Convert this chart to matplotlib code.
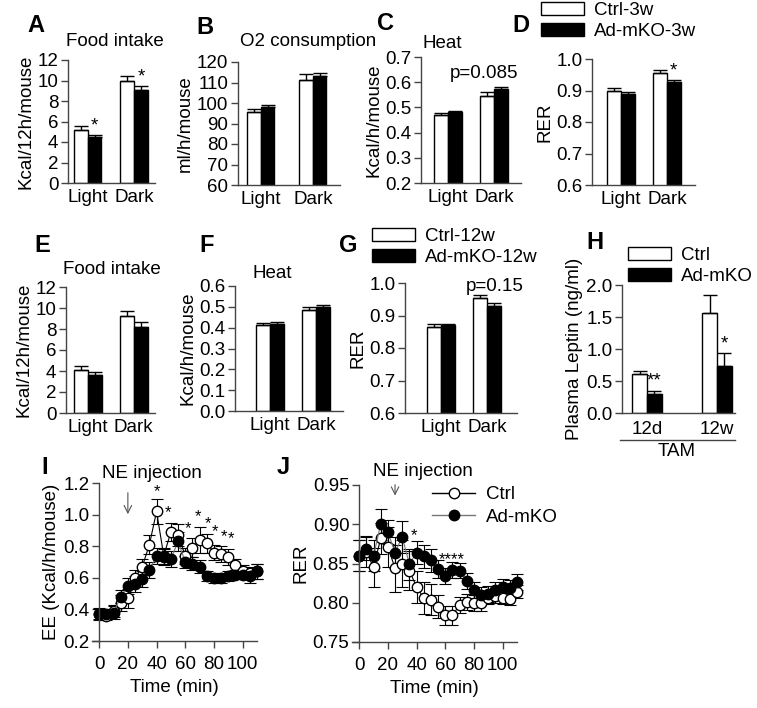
import numpy as np
import matplotlib.pyplot as plt
from matplotlib.lines import Line2D

plt.rcParams['font.family'] = ['Liberation Sans', 'DejaVu Sans']
plt.rcParams['font.size'] = 13.5

W, H = 757, 708
FS = 13.5

groups = ['Light', 'Dark']

# A: food intake, 3w
a_ctrl, a_ctrl_err = [5.2, 10.0], [0.35, 0.45]
a_ko, a_ko_err = [4.5, 9.1], [0.15, 0.35]
# B: O2 consumption, 3w
b_ctrl, b_ctrl_err = [95.5, 111.0], [1.5, 3.0]
b_ko, b_ko_err = [98.0, 113.0], [1.0, 1.8]
# C: heat, 3w
c_ctrl, c_ctrl_err = [0.468, 0.545], [0.008, 0.016]
c_ko, c_ko_err = [0.483, 0.572], [0.002, 0.008]
# D: RER, 3w
d_ctrl, d_ctrl_err = [0.897, 0.957], [0.010, 0.008]
d_ko, d_ko_err = [0.888, 0.927], [0.008, 0.007]
# E: food intake, 12w
e_ctrl, e_ctrl_err = [4.1, 9.2], [0.4, 0.5]
e_ko, e_ko_err = [3.6, 8.2], [0.3, 0.5]
# F: heat, 12w
f_ctrl, f_ctrl_err = [0.413, 0.487], [0.010, 0.010]
f_ko, f_ko_err = [0.417, 0.497], [0.008, 0.010]
# G: RER, 12w
g_ctrl, g_ctrl_err = [0.865, 0.953], [0.008, 0.010]
g_ko, g_ko_err = [0.871, 0.930], [0.003, 0.007]
# H: plasma leptin
h_groups = ['12d', '12w']
h_ctrl, h_ctrl_err = [0.61, 1.56], [0.05, 0.29]
h_ko, h_ko_err = [0.29, 0.74], [0.05, 0.19]

# I / J: NE injection time course
t = [0, 5, 10, 15, 20, 25, 30, 35, 40, 45, 50, 55, 60, 65, 70, 75, 80, 85, 90,
     95, 100, 105, 110]
i_ctrl = [0.37, 0.36, 0.39, 0.44, 0.47, 0.60, 0.67, 0.81, 1.02, 0.74, 0.89, 0.87,
          0.74, 0.79, 0.84, 0.82, 0.76, 0.75, 0.73, 0.68, 0.64, 0.63, 0.64]
i_ctrl_err = [0.04, 0.03, 0.04, 0.05, 0.06, 0.05, 0.05, 0.06, 0.08, 0.05, 0.06, 0.07,
              0.05, 0.06, 0.08, 0.06, 0.05, 0.05, 0.05, 0.04, 0.04, 0.04, 0.05]
i_ko = [0.37, 0.37, 0.38, 0.48, 0.55, 0.56, 0.59, 0.65, 0.74, 0.73, 0.72, 0.83,
        0.70, 0.69, 0.67, 0.61, 0.60, 0.60, 0.61, 0.62, 0.62, 0.61, 0.64]
i_ko_err = [0.03, 0.03, 0.04, 0.04, 0.05, 0.05, 0.05, 0.05, 0.05, 0.05, 0.05, 0.06,
            0.04, 0.04, 0.04, 0.03, 0.03, 0.03, 0.03, 0.03, 0.03, 0.04, 0.05]
i_stars_t = [40, 48, 62, 69, 76, 81, 87, 92]
i_stars_y = [1.145, 1.01, 0.91, 0.99, 0.94, 0.89, 0.86, 0.85]

j_ctrl = [0.860, 0.865, 0.845, 0.882, 0.871, 0.844, 0.850, 0.841, 0.820, 0.806, 0.804,
          0.795, 0.784, 0.784, 0.797, 0.801, 0.800, 0.800, 0.806, 0.808, 0.806, 0.805,
          0.814]
j_ctrl_err = [0.020, 0.020, 0.025, 0.020, 0.025, 0.030, 0.030, 0.025, 0.020, 0.020,
              0.020, 0.015, 0.012, 0.012, 0.010, 0.010, 0.010, 0.010, 0.008, 0.008,
              0.008, 0.008, 0.008]
j_ko = [0.860, 0.869, 0.860, 0.900, 0.890, 0.864, 0.884, 0.849, 0.864, 0.859, 0.854,
        0.843, 0.834, 0.842, 0.841, 0.828, 0.816, 0.810, 0.811, 0.816, 0.820, 0.819,
        0.826]
j_ko_err = [0.020, 0.015, 0.020, 0.020, 0.015, 0.020, 0.020, 0.020, 0.015, 0.015,
            0.015, 0.012, 0.010, 0.010, 0.010, 0.010, 0.010, 0.010, 0.010, 0.010,
            0.010, 0.010, 0.010]
j_stars_t = [38, 64.5]
j_stars_y = [0.886, 0.855]
j_stars = ['*', '****']

fig = plt.figure(figsize=(W / 100, H / 100), dpi=100)
AXC = '#444444'


def px(x0, y0, x1, y1):
    return [x0 / W, 1 - y1 / H, (x1 - x0) / W, (y1 - y0) / H]


def style(ax):
    for s in ['top', 'right']:
        ax.spines[s].set_visible(False)
    for s in ['left', 'bottom']:
        ax.spines[s].set_color(AXC)
        ax.spines[s].set_linewidth(1)
    ax.tick_params(direction='out', length=5, width=1, color=AXC, labelsize=FS, pad=2)


def bar_panel(rect, xlim, bw, ctrl, ctrl_err, ko, ko_err, ylim, yticks, fmt, ylabel,
              xlabels=groups):
    ax = fig.add_axes(px(*rect))
    x = np.arange(len(ctrl))
    ekw = dict(lw=1, capthick=1, ecolor='black')
    b1 = ax.bar(x - bw / 2, ctrl, bw, color='white', edgecolor='black', lw=1,
                yerr=[np.zeros(len(ctrl)), ctrl_err], capsize=5, error_kw=ekw)
    b2 = ax.bar(x + bw / 2, ko, bw, color='black', edgecolor='black', lw=1,
                yerr=[np.zeros(len(ko)), ko_err], capsize=5, error_kw=ekw)
    ax.set_xlim(*xlim)
    ax.set_ylim(*ylim)
    ax.set_yticks(yticks)
    ax.set_yticklabels([fmt.format(v) for v in yticks])
    ax.set_xticks(x)
    ax.set_xticklabels(xlabels)
    style(ax)
    ax.tick_params(axis='x', length=0, pad=4)
    ax.set_ylabel(ylabel, labelpad=2)
    return ax, b1, b2


def letter(x, y, s):
    fig.text(x / W, 1 - y / H, s, fontsize=17, fontweight='bold', ha='left', va='top')


def ftext(x, y, s, **kw):
    fig.text(x / W, 1 - y / H, s, fontsize=FS, va='center', **kw)


def stars(ax, xs, tops, labels, off):
    for xx, yy, lab in zip(xs, tops, labels):
        ax.text(xx, yy + off, lab, ha='center', va='bottom', fontsize=FS)


def bar_legend(ax, b1, b2, labels, x, y):
    ax.legend([b1.patches[0], b2.patches[0]], labels, loc='upper left',
              bbox_to_anchor=(x / W, 1 - y / H), bbox_transform=fig.transFigure,
              frameon=False, borderpad=0, borderaxespad=0, handlelength=2.3,
              handleheight=0.72, handletextpad=0.55, labelspacing=0.2, fontsize=FS)


# ---- row 1 ----
ax, _, _ = bar_panel((68, 60, 155, 183), (-0.42, 1.45), 0.30, a_ctrl, a_ctrl_err,
                     a_ko, a_ko_err, (0, 12), np.arange(0, 13, 2), '{:.0f}',
                     'Kcal/12h/mouse')
stars(ax, [0.15, 1.15], [a_ko[0] + a_ko_err[0], a_ko[1] + a_ko_err[1]], ['*', '*'], 0.05)

ax, _, _ = bar_panel((238, 62, 340, 185), (-0.44, 1.52), 0.26, b_ctrl, b_ctrl_err,
                     b_ko, b_ko_err, (60, 120), np.arange(60, 121, 10), '{:.0f}',
                     'ml/h/mouse')

ax, _, _ = bar_panel((421, 57, 521, 183), (-0.59, 1.59), 0.30, c_ctrl, c_ctrl_err,
                     c_ko, c_ko_err, (0.2, 0.7), np.arange(0.2, 0.71, 0.1), '{:.1f}',
                     'Kcal/h/mouse')
ax.text(0.78, 0.635, 'p=0.085', ha='center', va='center', fontsize=FS)

ax, b1, b2 = bar_panel((592, 59, 695, 185), (-0.63, 1.61), 0.30, d_ctrl, d_ctrl_err,
                       d_ko, d_ko_err, (0.6, 1.0), np.arange(0.6, 1.01, 0.1), '{:.1f}',
                       'RER')
stars(ax, [1.15], [d_ko[1] + d_ko_err[1]], ['*'], 0.002)
bar_legend(ax, b1, b2, ['Ctrl-3w', 'Ad-mKO-3w'], 541, 2)

# ---- row 2 ----
ax, _, _ = bar_panel((66, 287, 155, 413), (-0.47, 1.46), 0.30, e_ctrl, e_ctrl_err,
                     e_ko, e_ko_err, (0, 12), np.arange(0, 13, 2), '{:.0f}',
                     'Kcal/12h/mouse')

ax, _, _ = bar_panel((235, 286, 343, 411), (-0.76, 1.59), 0.30, f_ctrl, f_ctrl_err,
                     f_ko, f_ko_err, (0, 0.6), np.arange(0, 0.61, 0.1), '{:.1f}',
                     'Kcal/h/mouse')

ax, b1, b2 = bar_panel((405, 283, 517, 413), (-0.78, 1.65), 0.30, g_ctrl, g_ctrl_err,
                       g_ko, g_ko_err, (0.6, 1.0), np.arange(0.6, 1.01, 0.1), '{:.1f}',
                       'RER')
ax.text(1.17, 0.99, 'p=0.15', ha='center', va='center', fontsize=FS)
bar_legend(ax, b1, b2, ['Ctrl-12w', 'Ad-mKO-12w'], 372, 228)

ax, b1, b2 = bar_panel((622, 285, 735, 413), (-0.36, 1.26), 0.21, h_ctrl, h_ctrl_err,
                       h_ko, h_ko_err, (0, 2.0), np.arange(0, 2.01, 0.5), '{:.1f}',
                       'Plasma Leptin (ng/ml)', xlabels=h_groups)
ax.tick_params(axis='x', pad=6)
stars(ax, [0.105, 1.105], [h_ko[0] + h_ko_err[0], h_ko[1] + h_ko_err[1]], ['**', '*'], 0.02)
ax.plot([-0.02, 1.0], [-0.21, -0.21], color=AXC, lw=1, transform=ax.transAxes,
        clip_on=False)
ax.text(0.48, -0.30, 'TAM', transform=ax.transAxes, ha='center', va='center', fontsize=FS)
bar_legend(ax, b1, b2, ['Ctrl', 'Ad-mKO'], 628, 247)

# ---- row 3: time courses ----


def time_panel(rect, ctrl, ctrl_err, ko, ko_err, ylim, yticks, fmt, ylabel):
    ax = fig.add_axes(px(*rect))
    ax.errorbar(t, ctrl, yerr=ctrl_err, fmt='-o', color='black', mfc='white',
                mec='black', ms=7.5, lw=0.8, elinewidth=0.8, capsize=4,
                capthick=0.8, clip_on=False)
    ax.errorbar(t, ko, yerr=ko_err, fmt='-o', color='#777777', mfc='black',
                mec='black', ecolor='black', ms=7.5, lw=0.8, elinewidth=0.8,
                capsize=4, capthick=0.8, clip_on=False)
    ax.set_xlim(-5, 110)
    ax.set_ylim(*ylim)
    ax.set_yticks(yticks)
    ax.set_yticklabels([fmt.format(v) for v in yticks])
    ax.set_xticks(np.arange(0, 101, 20))
    style(ax)
    ax.tick_params(axis='x', pad=6)
    ax.spines['left'].set_position(('data', 0))
    ax.set_xlabel('Time (min)', labelpad=4)
    ax.set_ylabel(ylabel, labelpad=2)
    return ax


ax = time_panel((92, 483, 257, 641), i_ctrl, i_ctrl_err, i_ko, i_ko_err, (0.2, 1.2),
                np.arange(0.2, 1.21, 0.2), '{:.1f}', 'EE (Kcal/h/mouse)')
for xx, yy in zip(i_stars_t, i_stars_y):
    ax.text(xx, yy, '*', ha='center', va='center', fontsize=12)
ax.annotate('', xy=(20, 0.985), xytext=(20, 1.156),
            arrowprops=dict(arrowstyle='->', lw=0.8, color='#555555'),
            annotation_clip=False)
ax.text(37, 1.257, 'NE injection', ha='center', va='center', fontsize=FS)

ax = time_panel((352, 485, 517, 642), j_ctrl, j_ctrl_err, j_ko, j_ko_err, (0.75, 0.95),
                np.arange(0.75, 0.951, 0.05), '{:.2f}', 'RER')
for xx, yy, lab in zip(j_stars_t, j_stars_y, j_stars):
    ax.text(xx, yy, lab, ha='center', va='center', fontsize=12)
ax.annotate('', xy=(25, 0.933), xytext=(25, 0.954),
            arrowprops=dict(arrowstyle='->', lw=0.8, color='#555555'),
            annotation_clip=False)
ax.text(44.4, 0.9666, 'NE injection', ha='center', va='center', fontsize=FS)
h1 = Line2D([], [], color='black', lw=1, marker='o', mfc='white', mec='black', ms=7.5)
h2 = Line2D([], [], color='#777777', lw=1, marker='o', mfc='black', mec='black', ms=7.5)
ax.legend([h1, h2], ['Ctrl', 'Ad-mKO'], loc='upper left',
          bbox_to_anchor=(432 / W, 1 - 486 / H), bbox_transform=fig.transFigure,
          frameon=False, borderpad=0, borderaxespad=0, handlelength=2.3,
          handletextpad=0.6, labelspacing=0.3, fontsize=FS)

# ---- titles and letters ----
ftext(66, 41, 'Food intake')
ftext(240, 41, 'O2 consumption')
ftext(423, 43, 'Heat')
ftext(63, 270, 'Food intake')
ftext(253, 273, 'Heat')

letter(27, 14, 'A')
letter(196, 16, 'B')
letter(377, 12, 'C')
letter(512, 14, 'D')
letter(34, 234, 'E')
letter(199, 234, 'F')
letter(339, 234, 'G')
letter(586, 231, 'H')
letter(41, 456, 'I')
letter(277, 456, 'J')

fig.savefig('out.png', dpi=100)
